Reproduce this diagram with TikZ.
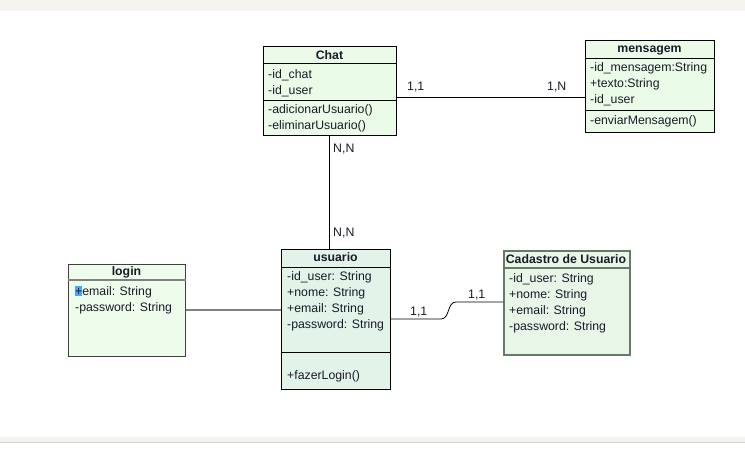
\documentclass[tikz,border=0pt]{standalone}
\usepackage{fontspec}
\setmainfont{Liberation Sans}
\usepackage{xcolor}
\usepackage{tikz}
\definecolor{topbar}{HTML}{F5F4F0}
\definecolor{botbar}{HTML}{F3F2EE}
\definecolor{botline}{HTML}{D6D6CE}
\definecolor{txt}{HTML}{1A1A2A}
\definecolor{chatfill}{HTML}{EAFCE8}
\definecolor{loginfill}{HTML}{EEFCEC}
\definecolor{userfill}{HTML}{E2F4EA}
\definecolor{cadfill}{HTML}{E7F6E6}
\definecolor{cadborder}{HTML}{6A786A}
\definecolor{greyline}{HTML}{808080}
\definecolor{selblue}{HTML}{4DA3FF}
\newcommand{\umlfont}{\fontsize{12.3}{14}\selectfont}
\tikzset{
  classbox/.style={draw=black, line width=0.9pt, anchor=north west, inner sep=0pt},
  sep/.style={draw=black, line width=0.9pt},
  title/.style={font=\umlfont\bfseries, text=txt, inner sep=0pt, anchor=base},
  attr/.style={font=\umlfont, text=txt, inner sep=0pt, anchor=base west},
  mult/.style={font=\umlfont, text=txt, inner sep=0pt, anchor=base west},
  assoc/.style={draw=black, line width=0.8pt}
}
\begin{document}
\begin{tikzpicture}[x=1pt, y=-1pt]
  \useasboundingbox (0,0) rectangle (745,449);
  % window background
  \fill[white] (0,0) rectangle (745,449);
  \fill[topbar] (0,0) rectangle (745,11);
  \fill[botbar] (0,437) rectangle (745,442);
  \draw[botline, line width=0.8pt] (0,442) -- (745,442);

  % Chat
  \node[classbox, fill=chatfill, minimum width=133, minimum height=89] (chat) at (263,46) {};
  \draw[sep] (chat.west |- 0,63) -- (chat.east |- 0,63);
  \draw[sep] (chat.west |- 0,100) -- (chat.east |- 0,100);
  \node[title] (chatT) at (329.5,59.5) {Chat};
  \node[attr] (chatA1) at (268,78.5) {-id\_chat};
  \node[attr] (chatA2) at (268,94.5) {-id\_user};
  \node[attr] (chatM1) at (268,114) {-adicionarUsuario()};
  \node[attr] (chatM2) at (268,130) {-eliminarUsuario()};

  % mensagem
  \node[classbox, fill=chatfill, minimum width=129, minimum height=92] (msg) at (585,40) {};
  \draw[sep] (msg.west |- 0,58) -- (msg.east |- 0,58);
  \draw[sep] (msg.west |- 0,110) -- (msg.east |- 0,110);
  \node[title] (msgT) at (649.5,52.5) {mensagem};
  \node[attr] (msgA1) at (590,71.5) {-id\_mensagem:String};
  \node[attr] (msgA2) at (590,87.5) {+texto:String};
  \node[attr] (msgA3) at (590,103.5) {-id\_user};
  \node[attr] (msgM1) at (590,124.5) {-enviarMensagem()};

  % login
  \node[classbox, draw=black!75, fill=loginfill, minimum width=117, minimum height=92] (login) at (68,264) {};
  \draw[greyline, line width=1.5pt] (login.west |- 0,280) -- (login.east |- 0,280);
  \fill[selblue] (75,286.5) rectangle (82,296);
  \node[title] (loginT) at (126.5,276) {login};
  \node[attr] (loginA1) at (75,295.5) {+email: String};
  \node[attr] (loginA2) at (75,312) {-password: String};

  % usuario
  \node[classbox, fill=userfill, minimum width=109, minimum height=140] (usuario) at (281,249) {};
  \draw[sep] (usuario.west |- 0,267) -- (usuario.east |- 0,267);
  \draw[sep] (usuario.west |- 0,352) -- (usuario.east |- 0,352);
  \node[title] (usuarioT) at (335.5,261.5) {usuario};
  \node[attr] (usuarioA1) at (287,280.5) {-id\_user: String};
  \node[attr] (usuarioA2) at (287,297) {+nome: String};
  \node[attr] (usuarioA3) at (287,313) {+email: String};
  \node[attr] (usuarioA4) at (287,328.5) {-password: String};
  \node[attr] (usuarioM1) at (287,379.5) {+fazerLogin()};

  % Cadastro de Usuario
  \node[classbox, draw=cadborder, line width=1.6pt, fill=cadfill, minimum width=126, minimum height=104] (cadastro) at (503,250) {};
  \draw[cadborder, line width=1.4pt] (cadastro.west |- 0,268) -- (cadastro.east |- 0,268);
  \node[title] (cadastroT) at (566,263.5) {Cadastro de Usuario};
  \node[attr] (cadastroA1) at (509,282.5) {-id\_user: String};
  \node[attr] (cadastroA2) at (509,299) {+nome: String};
  \node[attr] (cadastroA3) at (509,314.5) {+email: String};
  \node[attr] (cadastroA4) at (509,330.5) {-password: String};

  % associations
  \draw[assoc] (chat.east |- 0,97) -- (msg.west |- 0,97);
  \draw[assoc] (chat.south -| 329,0) -- (usuario.north -| 329,0);
  \draw[greyline, line width=1.6pt] (login.east |- 0,310) -- (usuario.west |- 0,310);
  \coordinate (bendA) at (441,319);
  \coordinate (bendB) at (456,302);
  \draw[assoc] (usuario.east |- 0,319) -- (bendA)
    .. controls (450,319) and (447,302) .. (bendB) -- (cadastro.west |- 0,302);

  % multiplicities
  \node[mult] (m1) at (407,91) {1,1};
  \node[mult] (m2) at (547,91) {1,N};
  \node[mult] (m3) at (333,153) {N,N};
  \node[mult] (m4) at (333,237) {N,N};
  \node[mult] (m5) at (410,316) {1,1};
  \node[mult] (m6) at (468,298.5) {1,1};
\end{tikzpicture}
\end{document}
